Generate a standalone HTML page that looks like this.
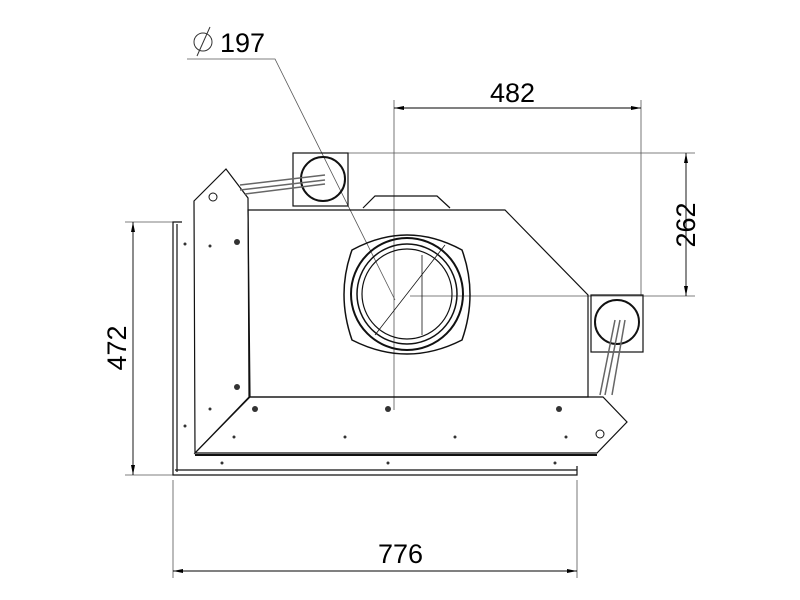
<!DOCTYPE html>
<html><head><style>html,body{margin:0;padding:0;background:#fff}svg{display:block}</style></head><body>
<svg width="800" height="600" viewBox="0 0 800 600" xmlns="http://www.w3.org/2000/svg" font-family="Liberation Sans, sans-serif">
<defs><marker id="a" markerWidth="10" markerHeight="6" refX="10" refY="3" orient="auto-start-reverse" markerUnits="userSpaceOnUse"><path d="M0,1 L10,3 L0,5z" fill="#000"/></marker></defs>
<g stroke="#555" stroke-width="0.8" fill="none">
<!-- extension lines -->
<line x1="394" y1="100" x2="394" y2="410"/>
<line x1="641" y1="100" x2="641" y2="296"/>
<line x1="348" y1="153" x2="695" y2="153"/>
<line x1="410" y1="296" x2="695" y2="296"/>
<line x1="125" y1="222" x2="178" y2="222"/>
<line x1="125" y1="475" x2="178" y2="475"/>
<line x1="173" y1="480" x2="173" y2="578"/>
<line x1="577" y1="480" x2="577" y2="578"/>
<polyline points="187,59 275,59 395,300"/>
</g>
<g stroke="#000" stroke-width="0.9" fill="none">
<line x1="394" y1="108" x2="641" y2="108" marker-start="url(#a)" marker-end="url(#a)"/>
<line x1="686" y1="153" x2="686" y2="296" marker-start="url(#a)" marker-end="url(#a)"/>
<line x1="133" y1="222" x2="133" y2="475" marker-start="url(#a)" marker-end="url(#a)"/>
<line x1="173" y1="571" x2="577" y2="571" marker-start="url(#a)" marker-end="url(#a)"/>
</g>
<g font-size="27" fill="#000">
<text x="490" y="102">482</text>
<text x="378" y="563">776</text>
<text transform="translate(695,225) rotate(-90)" text-anchor="middle">262</text>
<text transform="translate(126,348) rotate(-90)" text-anchor="middle">472</text>
<text x="220" y="52">197</text>
</g>
<circle cx="203" cy="42" r="9" stroke="#333" fill="none" stroke-width="1"/>
<line x1="197" y1="56" x2="210" y2="27" stroke="#333"/>
<g stroke="#111" stroke-width="1.2" fill="none">
<!-- left strip -->
<polyline points="182,222 173,222 173,475 577,475 577,466"/>
<line x1="177" y1="224" x2="177" y2="472"/>
<line x1="175" y1="470" x2="577" y2="470"/>
<!-- main body -->
<polygon points="248,210 505,210 588,295 588,397 250,397"/>
<polyline points="363,208 375,196 437,196 450,208"/>
<!-- left panel -->
<polygon points="194,201 226,169 248,198 249,397 195,453"/>
<!-- bottom panel -->
<polygon points="250,397 603,397 627,422 597,453 195,453"/>
<line x1="195" y1="455" x2="597" y2="455" stroke-width="2"/>
<!-- top duct -->
<rect x="293" y="153" width="55" height="53"/>
<circle cx="323" cy="179" r="22" stroke-width="2"/>
<!-- right duct -->
<rect x="591" y="295" width="52" height="57"/>
<circle cx="617" cy="322" r="22" stroke-width="2"/>
<!-- flange -->
<path d="M352,250 Q407,220 462,250 Q478,294 462,340 Q407,368 352,340 Q336,294 352,250z" stroke-width="1.5"/>
<circle cx="407" cy="294" r="56" stroke-width="2"/>
<circle cx="407" cy="294" r="50" stroke-width="1.5"/>
<circle cx="407" cy="294" r="45"/>
<line x1="422" y1="255" x2="422" y2="335" stroke-width="0.8"/>
<line x1="445" y1="245" x2="375" y2="335" stroke-width="0.8"/>
</g>
<!-- cables -->
<g stroke="#666" stroke-width="1.5">
<line x1="240" y1="185" x2="325" y2="175"/><line x1="240" y1="190" x2="325" y2="180"/><line x1="245" y1="194" x2="325" y2="184"/>
<line x1="615" y1="320" x2="600" y2="395"/><line x1="620" y1="320" x2="605" y2="395"/><line x1="625" y1="320" x2="612" y2="395"/>
</g>
<g fill="#333">
<circle cx="237" cy="242" r="3"/><circle cx="237" cy="387" r="3"/><circle cx="255" cy="409" r="3"/><circle cx="388" cy="409" r="3"/><circle cx="559" cy="409" r="3"/>
<circle cx="210" cy="246" r="1.5"/><circle cx="210" cy="409" r="1.5"/><circle cx="185" cy="244" r="1.5"/><circle cx="185" cy="426" r="1.5"/>
<circle cx="234" cy="437" r="1.5"/><circle cx="345" cy="437" r="1.5"/><circle cx="455" cy="437" r="1.5"/><circle cx="566" cy="437" r="1.5"/>
<circle cx="222" cy="463" r="1.5"/><circle cx="388" cy="463" r="1.5"/><circle cx="555" cy="463" r="1.5"/>
</g>
<circle cx="213" cy="197" r="4" fill="none" stroke="#111"/>
<circle cx="600" cy="434" r="4" fill="none" stroke="#111"/>
</svg>
</body></html>
